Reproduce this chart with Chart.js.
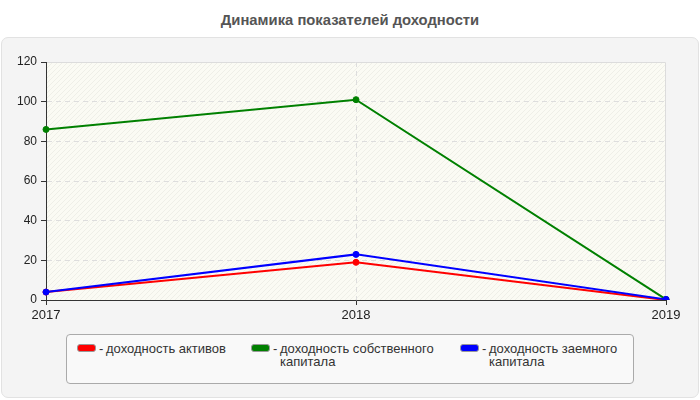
<!DOCTYPE html>
<html>
<head>
<meta charset="utf-8">
<script src="https://cdn.jsdelivr.net/npm/chart.js@4/dist/chart.umd.min.js"></script>
<style>
  body { margin: 0; background: #fff; font-family: Arial, "Liberation Sans", sans-serif; overflow: hidden; }
  #wrap { position: relative; width: 700px; height: 400px; }
  #title { position: absolute; left: 0; top: 12px; width: 700px; text-align: center;
           font-weight: bold; font-size: 14.8px; color: #555; }
  #panel { position: absolute; left: 1px; top: 37px; width: 696px; height: 359px;
           background: #f4f4f4; border: 1px solid #e2e2e2; border-radius: 7px; }
  #chart { position: absolute; left: 0; top: 0; }
  #legend { position: absolute; left: 66px; top: 334px; width: 566px; height: 48px;
            background: #f9f9f9; border: 1px solid #aaa; border-radius: 4px; }
  .item { position: absolute; top: 7px; font-size: 13px; line-height: 13px; color: #333; }
  .sw { position: absolute; left: 0; top: 2px; width: 17px; height: 6px;
        border: 1px solid #999; border-radius: 3px; }
  .dash { position: absolute; left: 22px; top: 0; }
  .txt { position: absolute; left: 29px; top: 0; }
</style>
</head>
<body>
<div id="wrap">
  <div id="title">Динамика показателей доходности</div>
  <div id="panel"></div>
  <canvas id="chart" width="700" height="400"></canvas>
  <div id="legend"></div>
</div>
<script>
// данные
const years = ['2017', '2018', '2019'];
const seriesNames = ['доходность активов', 'доходность собственного капитала', 'доходность заемного капитала'];
const seriesColors = ['#ff0000', '#008000', '#0000ff'];
const assetsReturn = [4, 19, 0];
const equityReturn = [86, 101, 0.3];
const debtReturn = [4, 23, 0.3];
const yMin = 0, yMax = 120, yStep = 20;

// легенда (html, т.к. нужен перенос строк)
const legendX = [10, 184, 393];
const legendW = [160, 175, 140];
const legend = document.getElementById('legend');
seriesNames.forEach(function (name, i) {
  const it = document.createElement('div');
  it.className = 'item';
  it.style.left = legendX[i] + 'px';
  it.innerHTML = '<div class="sw" style="background:' + seriesColors[i] + '"></div>' +
    '<span class="dash">-</span><div class="txt" style="width:' + legendW[i] + 'px">' + name + '</div>';
  legend.appendChild(it);
});

// штриховка фона
const pat = document.createElement('canvas');
pat.width = 5; pat.height = 5;
const pc = pat.getContext('2d');
pc.fillStyle = '#fbfbf4';
pc.fillRect(0, 0, 5, 5);
pc.strokeStyle = '#efefe8';
pc.lineWidth = 1;
pc.beginPath();
pc.moveTo(-1, 6); pc.lineTo(6, -1);
pc.stroke();

const plotBg = {
  id: 'plotBg',
  beforeDraw(chart) {
    const a = chart.chartArea, c = chart.ctx;
    c.save();
    c.fillStyle = c.createPattern(pat, 'repeat');
    c.fillRect(a.left, a.top, a.right - a.left, a.bottom - a.top);
    c.strokeStyle = '#dcdcdc';
    c.lineWidth = 1;
    c.beginPath();
    c.moveTo(a.left, a.top + 0.5);
    c.lineTo(a.right - 0.5, a.top + 0.5);
    c.lineTo(a.right - 0.5, a.bottom);
    c.stroke();
    c.restore();
  }
};

function ds(i, data, order) {
  return {
    label: seriesNames[i],
    data: data,
    borderColor: seriesColors[i],
    backgroundColor: seriesColors[i],
    pointBackgroundColor: seriesColors[i],
    pointBorderColor: seriesColors[i],
    borderWidth: 2,
    pointRadius: 3,
    pointBorderWidth: 1,
    tension: 0,
    fill: false,
    order: order
  };
}

const ctx = document.getElementById('chart');
const chart = new Chart(ctx, {
  type: 'line',
  data: {
    labels: years,
    datasets: [ds(0, assetsReturn, 3), ds(1, equityReturn, 2), ds(2, debtReturn, 1)]
  },
  plugins: [plotBg],
  options: {
    responsive: false,
    animation: false,
    layout: { padding: { left: 0, top: 62, right: 34, bottom: 80 } },
    plugins: { legend: { display: false }, title: { display: false }, tooltip: { enabled: false } },
    scales: {
      x: {
        offset: false,
        afterFit(s) { s.height = 20; },
        grid: {
          color: function (c) { return c.index === 1 ? '#dddddd' : 'rgba(0,0,0,0)'; },
          tickColor: '#333',
          tickLength: 5,
          lineWidth: 1
        },
        border: { color: '#333', width: 1, dash: [5, 4] },
        ticks: { color: '#222', font: { size: 13, family: 'Arial, "Liberation Sans"' }, padding: 3, maxRotation: 0 }
      },
      y: {
        min: yMin,
        max: yMax,
        afterFit(s) { s.width = 46; },
        grid: {
          color: function (c) { return (c.tick.value === yMin || c.tick.value === yMax) ? 'rgba(0,0,0,0)' : '#dddddd'; },
          tickColor: '#333',
          tickLength: 5
        },
        border: { color: '#333', width: 1, dash: [5, 4] },
        ticks: { stepSize: yStep, color: '#222', font: { size: 12, family: 'Arial, "Liberation Sans"' }, padding: 4 }
      }
    }
  }
});
</script>
</body>
</html>
